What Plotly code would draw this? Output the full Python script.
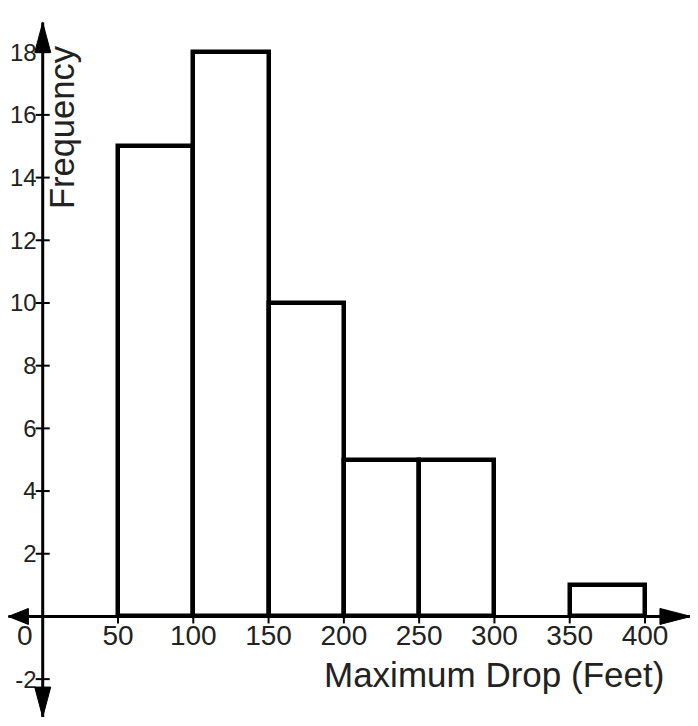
import plotly.graph_objects as go

# Histogram data (bin edges in feet, counts)
bin_left = [50, 100, 150, 200, 250, 300, 350]
bin_width = 50
frequency = [15, 18, 10, 5, 5, 0, 1]

x_ticks = [50, 100, 150, 200, 250, 300, 350, 400]
y_ticks = [-2, 2, 4, 6, 8, 10, 12, 14, 16, 18]
y_tick_text = ["-2", "2", "4", "6", "8", "10", "12", "14", "16", "18"]

# axis extents (data units); page has an 8px body margin, ranges compensate
x_min, x_max = -23.05, 440.5
y_min, y_max = -3.75, 19.41
x_arrow_left, x_arrow_right = -22.8, 430.5
y_arrow_top, y_arrow_bottom = 18.95, -3.21

font = "Liberation Sans, Arial, sans-serif"

fig = go.Figure()

# bars (only non-empty bins)
centers = [l + bin_width / 2 for l, f in zip(bin_left, frequency) if f > 0]
counts = [f for f in frequency if f > 0]
fig.add_trace(go.Bar(
    x=centers, y=counts, width=bin_width,
    marker=dict(color="white", line=dict(color="black", width=4.5)),
    hoverinfo="skip", showlegend=False,
))

# axis lines
fig.add_shape(type="line", x0=x_arrow_left, x1=x_arrow_right, y0=0, y1=0,
              line=dict(color="black", width=3))
fig.add_shape(type="line", x0=0, x1=0, y0=y_arrow_bottom, y1=y_arrow_top,
              line=dict(color="black", width=3))

# arrowheads (drawn in pixels, anchored at the axis ends)
arrows = [
    (x_arrow_right, 0, "M 0,0 L -31,8 L -31,-8 Z"),
    (x_arrow_left, 0, "M 0,0 L 20,8 L 20,-8 Z"),
    (0, y_arrow_top, "M 0,0 L -8,-30 L 8,-30 Z"),
    (0, y_arrow_bottom, "M 0,0 L -8,30 L 8,30 Z"),
]
for ax_x, ax_y, path in arrows:
    fig.add_shape(type="path", xsizemode="pixel", ysizemode="pixel",
                  xanchor=ax_x, yanchor=ax_y, path=path,
                  fillcolor="black", line=dict(color="black", width=1))

# tick marks crossing the axes
fig.add_trace(go.Scatter(
    x=[0] * len(y_ticks), y=y_ticks, mode="markers",
    marker=dict(symbol="line-ew", size=10, line=dict(color="black", width=2)),
    hoverinfo="skip", showlegend=False,
))
fig.add_trace(go.Scatter(
    x=x_ticks, y=[0] * len(x_ticks), mode="markers",
    marker=dict(symbol="line-ns", size=10, line=dict(color="black", width=2)),
    hoverinfo="skip", showlegend=False,
))

# "0" label sits left of the y axis
fig.add_annotation(x=0, y=0, text="0", showarrow=False, xanchor="right",
                   yanchor="top", xshift=-8, yshift=-2,
                   font=dict(family=font, size=28, color="#222"))

fig.add_annotation(x=658 / 698, y=0.0813, xref="paper", yref="paper",
                   text="Maximum Drop (Feet)", showarrow=False,
                   xanchor="right", yanchor="middle",
                   font=dict(family=font, size=35, color="#222"))
fig.add_annotation(x=0.0774, y=0.836, xref="paper", yref="paper",
                   text="Frequency", textangle=-90, showarrow=False,
                   xanchor="center", yanchor="middle",
                   font=dict(family=font, size=34.5, color="#222"))

fig.update_xaxes(range=[x_min, x_max], domain=[0, 1], anchor="free",
                 position=(0 - y_min) / (y_max - y_min),
                 tickvals=x_ticks, ticks="", showline=False, showgrid=False,
                 zeroline=False, tickfont=dict(family=font, size=28, color="#222"),
                 automargin=False)
fig.update_yaxes(range=[y_min, y_max], domain=[0, 1], anchor="free",
                 position=(0 - x_min) / (x_max - x_min),
                 tickvals=y_ticks, ticktext=y_tick_text,
                 ticks="", showline=False, showgrid=False,
                 zeroline=False, ticklabelstandoff=6,
                 tickfont=dict(family=font, size=24, color="#222"),
                 automargin=False)

fig.update_layout(
    width=698, height=726,
    margin=dict(l=0, r=0, t=0, b=0),
    plot_bgcolor="white", paper_bgcolor="white",
    template="none",
    bargap=0,
)

fig.write_html("out.html")
